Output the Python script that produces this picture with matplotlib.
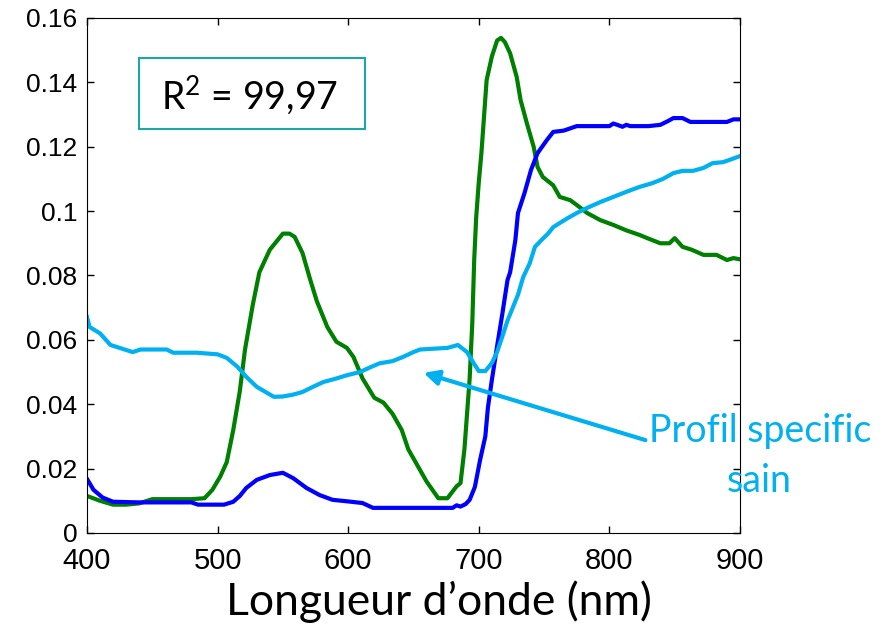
import numpy as np
import matplotlib
matplotlib.use('Agg')
import matplotlib.pyplot as plt
from matplotlib.patches import Rectangle

plt.rcParams['mathtext.fontset'] = 'custom'
plt.rcParams['mathtext.rm'] = 'Lato'
plt.rcParams['mathtext.it'] = 'Lato'

# green curve
wl_green = [400, 410, 420, 430, 440, 450, 460, 470, 480, 490, 496, 502, 507, 512, 517, 521,
            527, 532, 540, 550, 555, 559, 565, 571, 576, 584, 591, 599, 604, 611, 620, 627,
            634, 641, 646, 653, 660, 669, 676, 683, 686, 689, 691, 693, 695, 696.5, 698, 700,
            702, 706, 710, 714, 717, 720, 724, 729, 732, 737, 742, 745, 749, 757, 762, 770,
            775, 783, 793, 803, 813, 823, 829, 839, 846, 850, 856, 863, 872, 882, 890, 895, 900]
refl_green = [0.0115, 0.0100, 0.0088, 0.0088, 0.0092, 0.0105, 0.0105, 0.0105, 0.0105, 0.0108,
              0.0134, 0.0175, 0.022, 0.032, 0.044, 0.057, 0.071, 0.081, 0.088, 0.093, 0.093,
              0.092, 0.087, 0.0786, 0.072, 0.064, 0.0594, 0.0575, 0.0547, 0.048, 0.042, 0.0405,
              0.037, 0.032, 0.026, 0.021, 0.016, 0.0108, 0.0108, 0.0145, 0.0155, 0.026, 0.037,
              0.048, 0.065, 0.085, 0.098, 0.109, 0.118, 0.1407, 0.148, 0.153, 0.1538, 0.1525,
              0.149, 0.1417, 0.1345, 0.127, 0.120, 0.1137, 0.1106, 0.108, 0.1044, 0.1034,
              0.1019, 0.0994, 0.0972, 0.0957, 0.094, 0.0926, 0.0916, 0.090, 0.090, 0.0916,
              0.0889, 0.088, 0.0864, 0.0864, 0.0848, 0.0854, 0.085]

# blue curve
wl_blue = [400, 405, 412, 420, 440, 460, 480, 485, 505, 512, 517, 522, 530, 540, 550, 558, 568,
           578, 588, 600, 611, 619, 640, 660, 680, 683, 686, 690, 693, 697, 701, 705, 707, 710,
           714, 718, 722, 724, 728, 730, 735, 740, 745, 752, 757, 765, 775, 790, 800, 803, 806,
           810, 813, 816, 830, 839, 845, 849, 856, 862, 880, 890, 895, 900]
refl_blue = [0.0168, 0.0134, 0.011, 0.0097, 0.0095, 0.0095, 0.0095, 0.0088, 0.0088, 0.0097,
             0.0115, 0.014, 0.0165, 0.018, 0.0187, 0.017, 0.014, 0.0118, 0.0103, 0.0098,
             0.0093, 0.0078, 0.0078, 0.0078, 0.0078, 0.0086, 0.0082, 0.0090, 0.0103, 0.0143,
             0.0227, 0.030, 0.039, 0.0475, 0.058, 0.068, 0.0786, 0.081, 0.091, 0.0994, 0.1056,
             0.1128, 0.118, 0.122, 0.1246, 0.125, 0.1264, 0.1264, 0.1264, 0.1272, 0.1268,
             0.1262, 0.1268, 0.1264, 0.1264, 0.1268, 0.1280, 0.1289, 0.1289, 0.1277, 0.1277,
             0.1277, 0.1285, 0.1285]

# light blue curve (profil specific sain)
wl_sain = [400, 402, 410, 418, 425, 435, 441, 461, 466, 484, 500, 507, 515, 522, 530, 538, 543,
           550, 558, 565, 573, 581, 591, 599, 609, 617, 624, 634, 642, 650, 655, 676, 684, 691,
           696, 700, 705, 710, 714, 718, 722, 726, 730, 734, 739, 743, 748, 753, 757, 762, 768,
           775, 783, 793, 803, 813, 823, 833, 841, 849, 856, 864, 872, 879, 887, 892, 900]
refl_sain = [0.0671, 0.064, 0.062, 0.0584, 0.0575, 0.0562, 0.057, 0.057, 0.056, 0.056, 0.0555,
             0.0544, 0.0517, 0.0485, 0.0454, 0.0435, 0.0423, 0.0424, 0.043, 0.0438, 0.0454,
             0.0469, 0.048, 0.049, 0.050, 0.0515, 0.0527, 0.0534, 0.0547, 0.0562, 0.057, 0.0575,
             0.0584, 0.0562, 0.0528, 0.0503, 0.0503, 0.0528, 0.0562, 0.061, 0.066, 0.070, 0.074,
             0.0795, 0.0838, 0.0889, 0.091, 0.093, 0.095, 0.0963, 0.0978, 0.0994, 0.101, 0.1028,
             0.1044, 0.106, 0.1075, 0.1087, 0.110, 0.1118, 0.1125, 0.1125, 0.1134, 0.1149,
             0.1152, 0.1159, 0.1171]

xticks = [400, 500, 600, 700, 800, 900]
yticks = [0, 0.02, 0.04, 0.06, 0.08, 0.1, 0.12, 0.14, 0.16]
ytick_labels = ['0', '0.02', '0.04', '0.06', '0.08', '0.1', '0.12', '0.14', '0.16']

fig = plt.figure(figsize=(8.84, 6.26), dpi=100)
ax = fig.add_axes([0.0984, 0.1486, 0.7387, 0.8227])

ax.plot(wl_green, refl_green, color='#008000', lw=3)
ax.plot(wl_blue, refl_blue, color='#0000FF', lw=3)
ax.plot(wl_sain, refl_sain, color='#00B0F0', lw=3)

ax.set_xlim(400, 900)
ax.set_ylim(0, 0.16)
ax.set_xticks(xticks)
ax.set_xticklabels([str(t) for t in xticks], fontsize=21, family='Liberation Sans')
ax.set_yticks(yticks)
ax.set_yticklabels(ytick_labels, fontsize=19, family='Liberation Sans')
ax.tick_params(direction='in', top=True, right=True, length=5, width=1)
ax.tick_params(axis='x', pad=10)
ax.tick_params(axis='y', pad=7)

ax.set_xlabel("Longueur d\u2019onde (nm)", fontsize=32, family='Lato')
ax.xaxis.set_label_coords(0.539, -0.092)

# R2 box
ax.add_patch(Rectangle((439.8, 0.1255), 173, 0.0221, fill=False,
                       edgecolor='#1AA7A7', lw=1.5))
ax.text(456.7, 0.132, r"R$^{2}$ = 99,97", fontsize=27, family='Lato', va='baseline')

# annotation arrow
ax.annotate("", xy=(655.7, 0.050), xytext=(829.6, 0.0286),
            arrowprops=dict(arrowstyle='-|>', color='#00B0F0', lw=3, mutation_scale=22))
ax.text(915.3, 0.0283, "Profil specific", fontsize=27, family='Lato',
        color='#00B0F0', ha='center', va='baseline', clip_on=False)
ax.text(914.5, 0.0127, "sain", fontsize=27, family='Lato',
        color='#00B0F0', ha='center', va='baseline', clip_on=False)

fig.savefig('out.png', dpi=100)
